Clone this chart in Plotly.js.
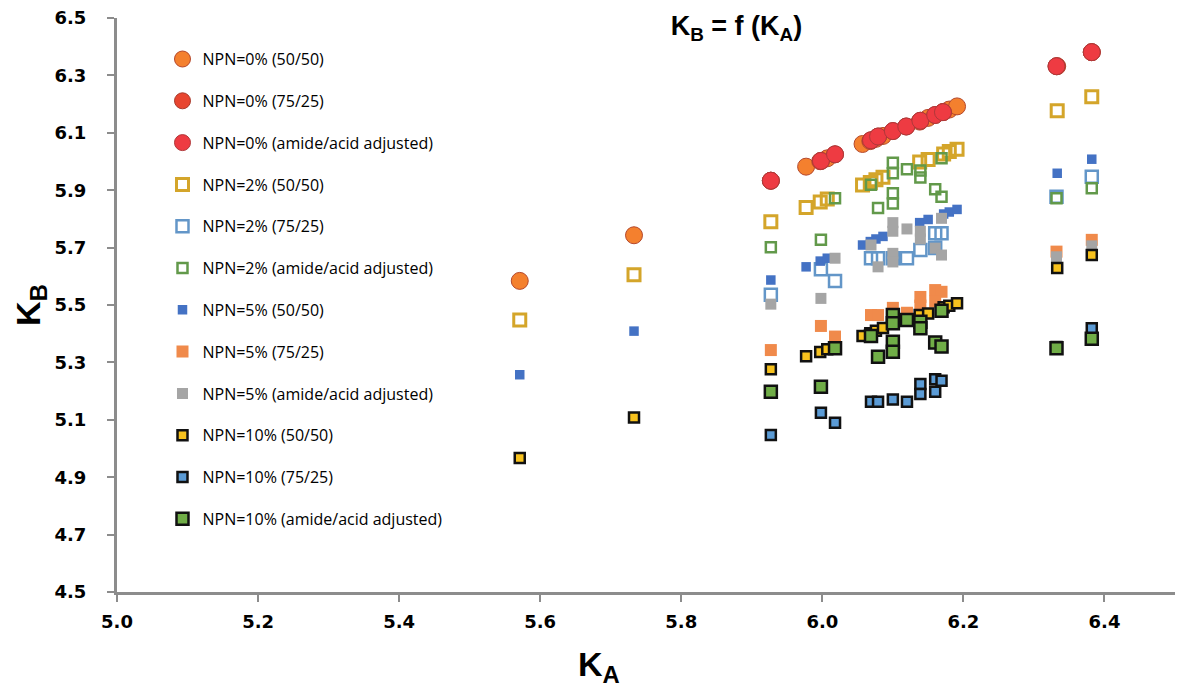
<!DOCTYPE html>
<html>
<head>
<meta charset="utf-8">
<script src="https://cdn.plot.ly/plotly-3.0.1.min.js"></script>
<style>html,body{margin:0;padding:0;background:#fff;}#chart{width:1184px;height:695px;}</style>
</head>
<body>
<div id="chart"></div>
<script>
// K_A values (x) shared by the 50/50 series
const kaFiftyFifty = [5.571, 5.733, 5.927, 5.977, 5.997, 6.007, 6.057, 6.068, 6.076, 6.086, 6.138, 6.150, 6.172, 6.180, 6.191, 6.333, 6.382];
// K_A values for the 0% 75/25 / amide series
const kaZeroOther = [5.927, 5.998, 6.018, 6.069, 6.079, 6.100, 6.119, 6.139, 6.160, 6.171, 6.332, 6.382];
// K_A values for amide-adjusted 2%, 5%, 10% series
const kaAmide = [5.927, 5.998, 6.018, 6.069, 6.079, 6.100, 6.100, 6.100, 6.100, 6.120, 6.139, 6.139, 6.160, 6.169, 6.169, 6.332, 6.382];
const kaTwo75 = [5.927, 5.998, 6.018, 6.069, 6.079, 6.100, 6.120, 6.139, 6.160, 6.160, 6.169, 6.332, 6.382];
const kaFive75 = [5.927, 5.998, 6.018, 6.069, 6.079, 6.100, 6.120, 6.139, 6.139, 6.160, 6.169, 6.160, 6.332, 6.382];
const kaTen75 = [5.927, 5.998, 6.018, 6.069, 6.079, 6.100, 6.120, 6.139, 6.139, 6.160, 6.160, 6.169, 6.332, 6.382];

// K_B values
const kbZero5050 = [5.584, 5.743, 5.933, 5.982, 6.001, 6.011, 6.061, 6.071, 6.079, 6.089, 6.139, 6.152, 6.173, 6.181, 6.192, 6.332, 6.381];
const kbZero7525 = [5.933, 6.002, 6.025, 6.074, 6.087, 6.106, 6.122, 6.142, 6.162, 6.172, 6.332, 6.381];
const kbZeroAmide = [5.933, 6.002, 6.025, 6.074, 6.087, 6.106, 6.122, 6.142, 6.162, 6.172, 6.332, 6.381];
const kbTwo5050 = [5.448, 5.605, 5.790, 5.840, 5.859, 5.869, 5.918, 5.927, 5.936, 5.945, 5.998, 6.007, 6.026, 6.035, 6.043, 6.177, 6.226];
const kbTwo7525 = [5.536, 5.625, 5.584, 5.663, 5.663, 5.663, 5.663, 5.692, 5.750, 5.699, 5.750, 5.877, 5.947];
const kbTwoAmide = [5.701, 5.727, 5.872, 5.919, 5.838, 5.996, 5.959, 5.889, 5.854, 5.973, 5.969, 5.944, 5.903, 6.011, 5.877, 5.872, 5.907];
const kbFive5050 = [5.257, 5.409, 5.587, 5.633, 5.653, 5.663, 5.709, 5.721, 5.730, 5.739, 5.787, 5.798, 5.817, 5.824, 5.833, 5.959, 6.008];
const kbFive7525 = [5.343, 5.427, 5.390, 5.465, 5.465, 5.490, 5.473, 5.528, 5.498, 5.552, 5.546, 5.512, 5.686, 5.727];
const kbFiveAmide = [5.503, 5.523, 5.663, 5.709, 5.633, 5.787, 5.757, 5.680, 5.650, 5.765, 5.757, 5.730, 5.698, 5.674, 5.802, 5.668, 5.706];
const kbTen5050 = [4.967, 5.108, 5.276, 5.321, 5.336, 5.346, 5.392, 5.402, 5.410, 5.420, 5.465, 5.470, 5.492, 5.497, 5.506, 5.629, 5.674];
const kbTen7525 = [5.047, 5.125, 5.090, 5.163, 5.163, 5.171, 5.163, 5.225, 5.190, 5.241, 5.198, 5.236, 5.354, 5.419];
const kbTenAmide = [5.198, 5.215, 5.349, 5.392, 5.320, 5.465, 5.436, 5.372, 5.337, 5.448, 5.442, 5.419, 5.369, 5.355, 5.480, 5.349, 5.382];

const seriesNames = [
  'NPN=0% (50/50)', 'NPN=0% (75/25)', 'NPN=0% (amide/acid adjusted)',
  'NPN=2% (50/50)', 'NPN=2% (75/25)', 'NPN=2% (amide/acid adjusted)',
  'NPN=5% (50/50)', 'NPN=5% (75/25)', 'NPN=5% (amide/acid adjusted)',
  'NPN=10% (50/50)', 'NPN=10% (75/25)', 'NPN=10% (amide/acid adjusted)'
];
const tickValsX = [5.0, 5.2, 5.4, 5.6, 5.8, 6.0, 6.2, 6.4];
const tickValsY = [4.5, 4.7, 4.9, 5.1, 5.3, 5.5, 5.7, 5.9, 6.1, 6.3, 6.5];

const xs = [kaFiftyFifty, kaZeroOther, kaZeroOther, kaFiftyFifty, kaTwo75, kaAmide, kaFiftyFifty, kaFive75, kaAmide, kaFiftyFifty, kaTen75, kaAmide];
const ys = [kbZero5050, kbZero7525, kbZeroAmide, kbTwo5050, kbTwo7525, kbTwoAmide, kbFive5050, kbFive7525, kbFiveAmide, kbTen5050, kbTen7525, kbTenAmide];

const markers = [
  {symbol:'circle', size:17, color:'#F4802E', line:{color:'#B5482C', width:1}},
  {symbol:'circle', size:17, color:'#E8452F', line:{color:'#A83A2C', width:1}},
  {symbol:'circle', size:17, color:'#EE3B42', line:{color:'#B0383A', width:1}},
  {symbol:'square-open', size:12, color:'#D4A52A', line:{color:'#D4A52A', width:3}},
  {symbol:'square-open', size:12, color:'#6396C8', line:{color:'#6396C8', width:2.5}},
  {symbol:'square-open', size:10, color:'#62994A', line:{color:'#62994A', width:2.5}},
  {symbol:'square', size:9.5, color:'#4472C4', line:{width:0}},
  {symbol:'square', size:12, color:'#F08A4B', line:{width:0}},
  {symbol:'square', size:11, color:'#A5A5A5', line:{width:0}},
  {symbol:'square', size:10, color:'#F7C21E', line:{color:'#111111', width:2.5}},
  {symbol:'square', size:10, color:'#5B9BD5', line:{color:'#111111', width:2.5}},
  {symbol:'square', size:12, color:'#70AD47', line:{color:'#111111', width:2.5}}
];

const traces = seriesNames.map((name, i) => ({
  type: 'scatter', mode: 'markers', name: name,
  x: xs[i], y: ys[i], marker: markers[i],
  legendgroup: 'g' + i, cliponaxis: false
}));

const axisFont = {family: 'DejaVu Sans', size: 18, color: '#000', weight: 'bold'};
const layout = {
  width: 1184, height: 695,
  margin: {l: 117, r: 9, t: 18, b: 103},
  paper_bgcolor: '#fff', plot_bgcolor: '#fff',
  title: {text: '<b>K<sub>B</sub> = f (K<sub>A</sub>)</b>', font: {family: 'Liberation Sans', size: 27, color: '#000'},
          x: 0.622, xanchor: 'center', y: 0.963, yanchor: 'middle'},
  showlegend: true,
  legend: {x: 0.043, y: 0.958, xanchor: 'left', yanchor: 'top', bgcolor: 'rgba(0,0,0,0)',
           font: {family: 'Open Sans', size: 16, color: '#000'}, tracegroupgap: 18, itemwidth: 30},
  xaxis: {range: [5.0, 6.5], tickvals: tickValsX, tickformat: '.1f', showgrid: false, zeroline: false,
          showline: true, linecolor: '#8C8C8C', linewidth: 3, ticks: 'outside', ticklen: 7, tickwidth: 2, tickcolor: '#8C8C8C',
          tickfont: axisFont, ticklabelstandoff: 4,
          title: {text: '<b>K<sub>A</sub></b>' + '&nbsp;'.repeat(10), font: {family: 'Liberation Sans', size: 34, color: '#000'}, standoff: 22}},
  yaxis: {range: [4.5, 6.5], tickvals: tickValsY, tickformat: '.1f', showgrid: false, zeroline: false,
          showline: true, linecolor: '#8C8C8C', linewidth: 3, ticks: 'outside', ticklen: 7, tickwidth: 2, tickcolor: '#8C8C8C',
          tickfont: axisFont, ticklabelstandoff: 17,
          title: {text: '<b>K<sub>B</sub></b>', font: {family: 'Liberation Sans', size: 34, color: '#000'}, standoff: 4}}
};

Plotly.newPlot('chart', traces, layout, {displayModeBar: false, staticPlot: true});
</script>
</body>
</html>
